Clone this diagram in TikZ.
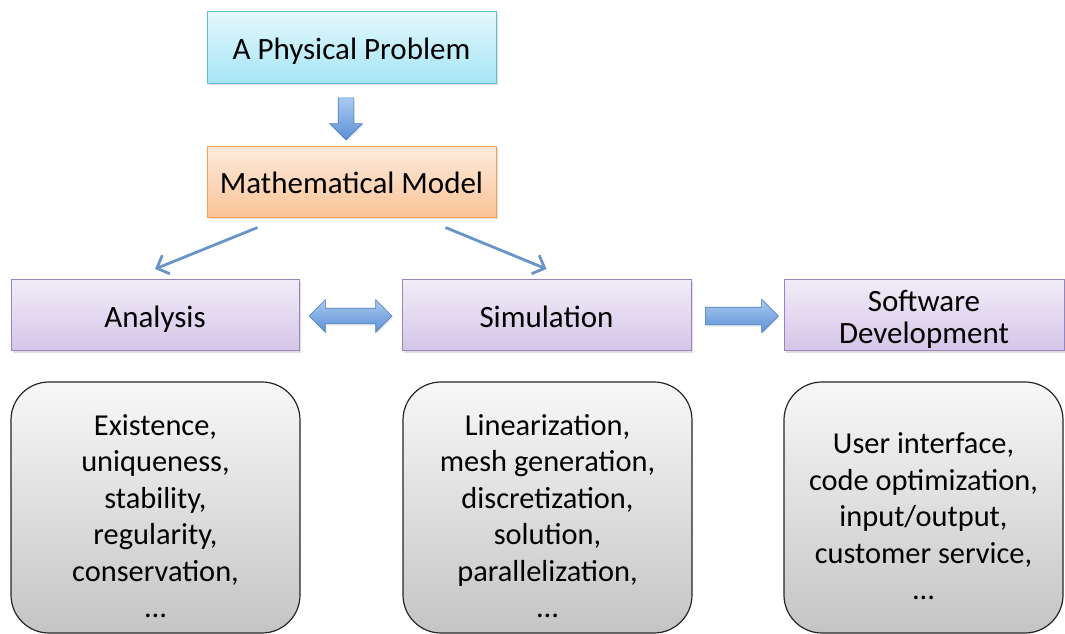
\documentclass[tikz,border=0pt]{standalone}
\usepackage{fontspec}
\setmainfont{Carlito}
\usepackage{tikz}
\usetikzlibrary{arrows,arrows.meta,shapes,shapes.arrows,shadows,calc,positioning}
\definecolor{cyantop}{HTML}{E3F8FC}
\definecolor{cyanbot}{HTML}{A6E5F6}
\definecolor{cyanline}{HTML}{62BDD4}
\definecolor{orgtop}{HTML}{FDEBDD}
\definecolor{orgbot}{HTML}{FBC497}
\definecolor{orgline}{HTML}{F59E58}
\definecolor{lavtop}{HTML}{F1EDF8}
\definecolor{lavbot}{HTML}{D5C5E8}
\definecolor{lavline}{HTML}{9A82BD}
\definecolor{graytop}{HTML}{F8F8F8}
\definecolor{graybot}{HTML}{C4C4C4}
\definecolor{arrtop}{HTML}{A9CAF1}
\definecolor{arrbot}{HTML}{5C90D5}
\definecolor{arrline}{HTML}{4F81BD}
\tikzstyle{plainbox}=[rectangle, draw, line width=1pt, inner sep=0pt,
                      minimum width=289pt, minimum height=71pt,
                      text height=24pt, text depth=0pt,
                      font=\fontsize{31}{32.5}\selectfont, align=center,
                      drop shadow={opacity=0.25, shadow xshift=1.5pt,
                      shadow yshift=-2pt}]
\tikzstyle{problembox}=[plainbox, draw=cyanline, top color=cyantop,
                        bottom color=cyanbot]
\tikzstyle{modelbox}=[plainbox, draw=orgline, top color=orgtop,
                      bottom color=orgbot]
\tikzstyle{topicbox}=[plainbox, draw=lavline, top color=lavtop,
                      bottom color=lavbot]
\tikzstyle{listbox}=[rectangle, rounded corners=38pt, draw=black!85,
                     line width=1.2pt, top color=graytop,
                     bottom color=graybot, minimum height=251pt,
                     text height=220pt, text depth=0pt,
                     font=\fontsize{30.4}{36.5}\selectfont, align=center]
\tikzstyle{blockarrow}=[draw=arrline, line width=0.6pt, top color=arrtop,
                        bottom color=arrbot, inner xsep=0pt,
                        inner ysep=7.5pt, drop shadow={opacity=0.2,
                        shadow xshift=1pt, shadow yshift=-1.5pt}]
\tikzstyle{thinarrow}=[-{Straight Barb[length=10pt, width=20pt]},
                       draw=arrline!85!white, line width=2.8pt]

\begin{document}
\begin{tikzpicture}[x=1pt, y=-1pt]
    \clip (0,0) rectangle (1065,634);
    \fill[white] (0,0) rectangle (1065,634);

    % top of the chain
    \node[problembox] (problem) at (351.5,47.5) {A Physical Problem};
    \node[modelbox] (model) at (351.5,181.5) {Mathematical Model};
    \node[blockarrow, single arrow, rotate=-90, minimum height=42pt,
          single arrow head extend=8.5pt] (down) at (346,115) {};

    % three branches
    \node[topicbox, minimum width=288pt] (analysis) at (155,315) {Analysis};
    \node[topicbox] (simulation) at (546.5,315) {Simulation};
    \node[topicbox, minimum width=280pt, text height=57pt] (software)
          at (924,315) {Software\\Development};

    \draw[thinarrow] ([xshift=-94pt, yshift=-10pt]model.south)
          -- ([yshift=10pt]analysis.north);
    \draw[thinarrow] ([xshift=94pt, yshift=-10pt]model.south)
          -- ([yshift=10pt]simulation.north);

    \node[blockarrow, double arrow, minimum height=83pt,
          double arrow head extend=8.5pt] (both) at (350.5,316) {};
    \node[blockarrow, single arrow, minimum height=73pt, inner ysep=8.5pt,
          single arrow head extend=8pt] (onward) at (737.5,316) {};

    % lists under the branches
    \node[listbox, minimum width=289pt] (analysislist) at (155.5,507.5)
          {Existence,\\uniqueness,\\stability,\\regularity,\\conservation,\\…};
    \node[listbox, minimum width=289pt] (simulationlist) at (547.5,507.5)
          {Linearization,\\mesh generation,\\discretization,\\solution,\\parallelization,\\…};
    \node[listbox, minimum width=279pt, text height=184pt] (softwarelist)
          at (923.5,507.5)
          {User interface,\\code optimization,\\input/output,\\customer service,\\…};
\end{tikzpicture}
\end{document}
